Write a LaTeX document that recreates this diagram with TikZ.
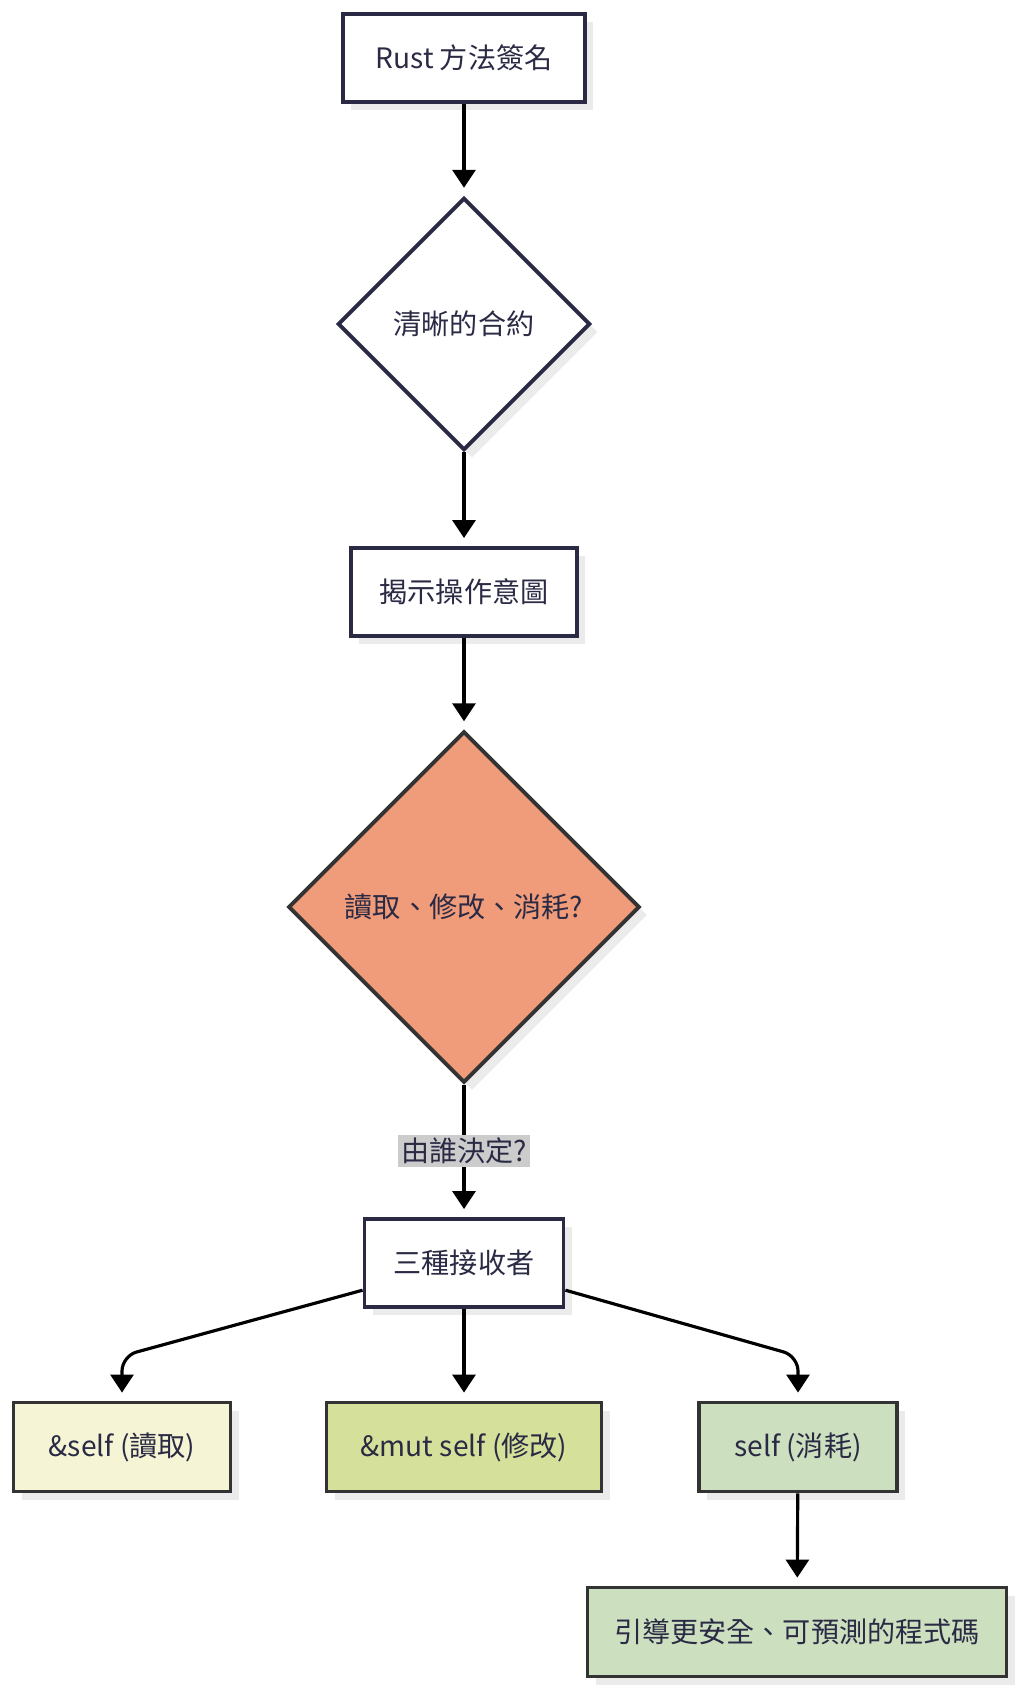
\documentclass[tikz,border=0pt]{standalone}
\usepackage{fontspec}
\setmainfont{Noto Sans CJK TC}
\usetikzlibrary{arrows.meta,shapes.geometric,shadows}
\usepackage{xcolor}
\definecolor{inkblue}{HTML}{2A2A44}
\definecolor{framegray}{HTML}{333333}
\definecolor{shadegray}{HTML}{EBEBEB}
\definecolor{decidefill}{HTML}{F09C7A}
\definecolor{readfill}{HTML}{F5F4D4}
\definecolor{mutfill}{HTML}{D5E09B}
\definecolor{ownfill}{HTML}{CCDFBF}
\definecolor{tagfill}{HTML}{CCCCCC}

\begin{document}
\begin{tikzpicture}[
  font=\fontsize{16}{19}\selectfont,
  shade/.style={drop shadow={shadow xshift=0.16cm, shadow yshift=-0.16cm, fill=shadegray, opacity=1}},
  plainbox/.style={draw=inkblue, line width=2.2pt, fill=white, text=inkblue,
    minimum height=1.76cm, inner sep=0pt, shade},
  plaindiam/.style={shape=diamond, aspect=1, draw=inkblue, line width=2.2pt,
    fill=white, text=inkblue, inner sep=0pt, shade},
  colbox/.style={draw=framegray, line width=2.2pt, fill=#1, text=inkblue,
    minimum height=1.78cm, inner sep=0pt, shade},
  flow/.style={draw=black, line width=1.8pt,
    -{Triangle[length=0.36cm,width=0.46cm]}, shorten >=0.16cm},
  edgetag/.style={fill=tagfill, text=inkblue, inner sep=1.5pt}
]
  \useasboundingbox (0,0) rectangle (20.48,-33.94);

  \node[plainbox, minimum width=4.84cm] (sig) at (9.28,-1.16) {Rust 方法簽名};
  \node[plaindiam, minimum size=5.05cm] (contract) at (9.28,-6.48) {清晰的合約};
  \node[plainbox, minimum width=4.52cm] (intent) at (9.28,-11.84) {揭示操作意圖};
  \node[plaindiam, fill=decidefill, draw=framegray, minimum size=7.03cm]
    (decide) at (9.28,-18.14) {讀取、修改、消耗?};
  \node[plainbox, minimum width=3.98cm] (receivers) at (9.28,-25.26) {三種接收者};
  \node[colbox=readfill, minimum width=4.34cm] (byref) at (2.44,-28.94) {\&self (讀取)};
  \node[colbox=mutfill, minimum width=5.5cm] (bymut) at (9.28,-28.94) {\&mut self (修改)};
  \node[colbox=ownfill, minimum width=3.96cm] (byown) at (15.96,-28.94) {self (消耗)};
  \node[colbox=ownfill, minimum width=8.38cm] (safer) at (15.94,-32.64) {引導更安全、可預測的程式碼};

  \coordinate (refbend) at (2.44,-27.12);
  \coordinate (ownbend) at (15.96,-27.12);

  \draw[flow] (sig) -- (contract);
  \draw[flow] (contract) -- (intent);
  \draw[flow] (intent) -- (decide);
  \draw[flow] (decide) -- node[edgetag] {由誰決定?} (receivers);
  \draw[flow, rounded corners=0.3cm] (receivers.195) -- (refbend) -- (byref);
  \draw[flow] (receivers) -- (bymut);
  \draw[flow, rounded corners=0.3cm] (receivers.345) -- (ownbend) -- (byown);
  \draw[flow] (byown) -- (safer);
\end{tikzpicture}
\end{document}
